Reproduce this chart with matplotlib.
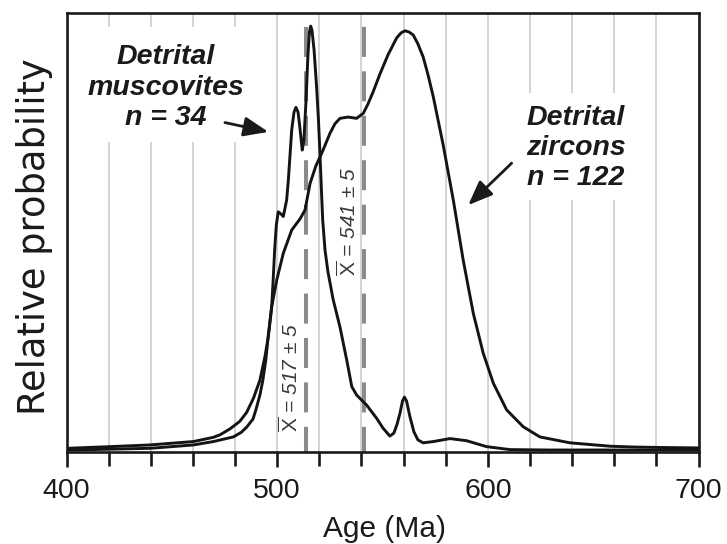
import matplotlib
matplotlib.use("Agg")
import matplotlib.pyplot as plt
from matplotlib.patches import Rectangle, FancyArrowPatch

plt.rcParams['font.family'] = ['Liberation Sans', 'DejaVu Sans']
plt.rcParams['mathtext.fontset'] = 'custom'
plt.rcParams['mathtext.rm'] = 'Liberation Sans'
plt.rcParams['mathtext.it'] = 'Liberation Sans:italic'
plt.rcParams['lines.scale_dashes'] = False

# ---------------- data ----------------
musc_age = [400.0, 401.7, 420.6, 439.6, 460.2, 469.7, 479.2, 483.0, 485.5, 488.5,
            489.9, 491.8, 493.2, 494.6, 495.8, 497.4, 498.1, 498.8, 499.6, 500.5,
            501.8, 502.9, 504.5, 505.3, 506.9, 508.0, 508.9, 509.9, 510.8, 511.9,
            512.7, 513.7, 514.6, 515.3, 515.9, 516.5, 517.5, 518.7, 519.6, 520.3,
            521.0, 521.6, 522.7, 524.1, 526.6, 529.8, 533.0, 535.4, 537.7, 542.5,
            547.2, 550.2, 553.5, 555.4, 556.9, 558.3, 559.5, 560.4, 561.4, 563.0,
            564.9, 566.8, 569.3, 574.1, 582.0, 589.9, 599.4, 610.5, 629.5, 700.0]
musc_prob = [0.000, 0.000, 0.002, 0.004, 0.012, 0.020, 0.031, 0.042, 0.054, 0.073,
             0.095, 0.130, 0.165, 0.213, 0.272, 0.339, 0.402, 0.473, 0.532, 0.563,
             0.558, 0.552, 0.591, 0.638, 0.757, 0.799, 0.810, 0.799, 0.761, 0.709,
             0.733, 0.827, 0.934, 0.988, 1.002, 0.993, 0.946, 0.859, 0.780, 0.701,
             0.615, 0.544, 0.473, 0.421, 0.355, 0.291, 0.213, 0.150, 0.130, 0.106,
             0.075, 0.052, 0.033, 0.040, 0.061, 0.087, 0.116, 0.125, 0.116, 0.079,
             0.043, 0.024, 0.017, 0.020, 0.027, 0.022, 0.008, 0.001, 0.000, 0.000]

zirc_age = [400.0, 420.6, 439.6, 460.2, 469.7, 472.9, 477.6, 482.3, 485.5, 488.7,
            491.8, 494.2, 495.8, 497.4, 499.8, 502.9, 506.9, 510.8, 513.2, 515.6,
            518.4, 521.1, 525.1, 527.4, 529.8, 533.7, 537.7, 540.9, 543.1, 545.5,
            548.8, 552.6, 556.7, 558.8, 560.7, 562.6, 564.6, 566.8, 569.3, 571.6,
            574.1, 578.8, 583.6, 588.3, 593.1, 597.8, 602.6, 608.9, 616.8, 624.7,
            631.8, 639.0, 648.5, 658.0, 669.8, 681.7, 700.0]
zirc_prob = [0.004, 0.008, 0.012, 0.020, 0.030, 0.036, 0.050, 0.068, 0.089, 0.122,
             0.165, 0.221, 0.268, 0.339, 0.402, 0.465, 0.520, 0.546, 0.567, 0.630,
             0.672, 0.701, 0.749, 0.771, 0.784, 0.787, 0.784, 0.796, 0.818, 0.846,
             0.889, 0.934, 0.974, 0.986, 0.991, 0.988, 0.981, 0.960, 0.929, 0.887,
             0.835, 0.721, 0.591, 0.449, 0.323, 0.229, 0.158, 0.095, 0.055, 0.031,
             0.024, 0.017, 0.013, 0.009, 0.007, 0.006, 0.005]

mean_ages = [513.5, 541.0]
mean_texts = [r'$\overline{\mathrm{X}}$ = 517 ± 5', r'$\overline{\mathrm{X}}$ = 541 ± 5']

major_ticks = [400, 500, 600, 700]
minor_ticks = [420, 440, 460, 480, 520, 540, 560, 580, 620, 640, 660, 680]

musc_label = 'Detrital\nmuscovites\nn = 34'
zirc_label = 'Detrital\nzircons\nn = 122'

# ---------------- figure ----------------
fig = plt.figure(figsize=(7.27, 5.44), dpi=100)
ax = fig.add_axes([0.0915, 0.1691, 0.8693, 0.807])
ax.set_xlim(400, 700)
ax.set_ylim(-0.0047, 1.033)

# vertical grid
for a in major_ticks + minor_ticks:
    ax.axvline(a, color='#c9c9c9', lw=1.1, zorder=1)

# white backgrounds behind the labels
ax.add_patch(Rectangle((413.5, 0.728), 73.6, 0.272, fc='white', ec='none', zorder=1.5))
ax.add_patch(Rectangle((612.9, 0.591), 61.7, 0.253, fc='white', ec='none', zorder=1.5))

# mean lines
for m in mean_ages:
    ax.plot([m, m], [1.033, -0.0047], color='#8a8a8a', lw=2.9,
            linestyle=(22.0, (21.6, 10.4)), solid_capstyle='butt',
            dash_capstyle='butt', zorder=3)

# curves
ax.plot(musc_age, musc_prob, color='#141414', lw=2.1, zorder=4,
        solid_joinstyle='round', solid_capstyle='round')
ax.plot(zirc_age, zirc_prob, color='#141414', lw=2.1, zorder=4,
        solid_joinstyle='round', solid_capstyle='round')

# mean labels
ax.text(506.1, 0.1726, mean_texts[0], rotation=90, ha='center', va='center',
        fontsize=15, style='italic', color='#3a3a3a', zorder=5)
ax.text(533.6, 0.541, mean_texts[1], rotation=90, ha='center', va='center',
        fontsize=15, style='italic', color='#3a3a3a', zorder=5)

# annotations
ax.text(447.2, 0.856, musc_label, ha='center', va='center', multialignment='center',
        fontsize=20.5, fontweight='bold', style='italic', color='#1a1a1a',
        linespacing=1.22, zorder=5)
ax.text(641.8, 0.714, zirc_label, ha='center', va='center', multialignment='center',
        fontsize=20.5, fontweight='bold', style='italic', color='#1a1a1a',
        linespacing=1.22, zorder=5)

for (x0, y0), (x1, y1) in [((475.2, 0.774), (495.8, 0.752)),
                           ((611.3, 0.678), (590.7, 0.579))]:
    arr = FancyArrowPatch((x0, y0), (x1, y1),
                          arrowstyle='-|>,head_length=0.75,head_width=0.3',
                          mutation_scale=20, lw=2.0, color='#1a1a1a',
                          shrinkA=0, shrinkB=0, zorder=5)
    ax.add_patch(arr)

# axes styling
for s in ax.spines.values():
    s.set_linewidth(1.9)
    s.set_color('#1a1a1a')
    s.set_zorder(6)
ax.set_xticks(major_ticks)
ax.set_xticks(minor_ticks, minor=True)
ax.set_yticks([])
ax.tick_params(axis='x', which='major', direction='out', length=11, width=1.9,
               labelsize=20.5, pad=7.5, color='#1a1a1a', labelcolor='#1a1a1a')
ax.tick_params(axis='x', which='minor', direction='out', length=10, width=1.9,
               color='#1a1a1a')

ax.set_xlabel('Age (Ma)', fontsize=21.5, color='#1a1a1a')
ax.xaxis.set_label_coords(0.5024, -0.1435)
ax.set_ylabel('Relative probability', fontsize=26.5, color='#1a1a1a',
              family=['DejaVu Sans'])
ax.yaxis.set_label_coords(-0.0217, 0.49)

fig.savefig('out.png', dpi=100)
